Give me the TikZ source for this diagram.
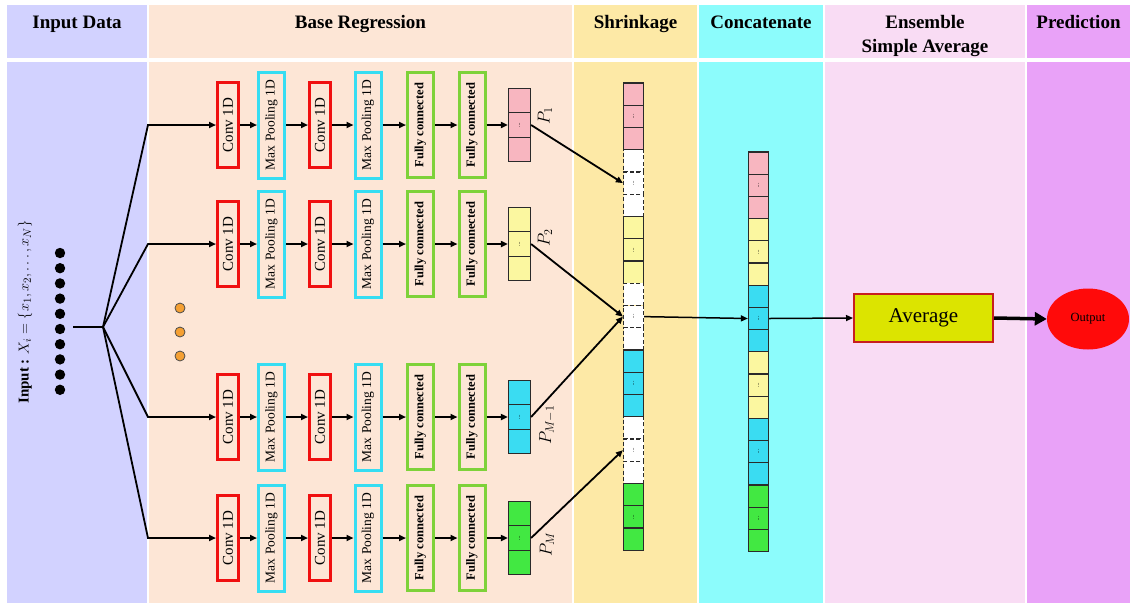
\documentclass[tikz,border=0pt]{standalone}
\usepackage{fontspec}
\setmainfont{Liberation Serif}
\usetikzlibrary{arrows.meta,shapes.geometric}

% column backgrounds
\definecolor{colInput}{HTML}{D2D2FF}
\definecolor{colBase}{HTML}{FDE6D6}
\definecolor{colShrink}{HTML}{FDE9A6}
\definecolor{colConcat}{HTML}{8CFCFC}
\definecolor{colEns}{HTML}{F9DCF4}
\definecolor{colPred}{HTML}{E9A2F8}
% layer boxes
\definecolor{convred}{HTML}{F01010}
\definecolor{poolcyan}{HTML}{36DDF2}
\definecolor{fcgreen}{HTML}{7ED23A}
% vector cells
\definecolor{cellpink}{HTML}{F8B6C0}
\definecolor{cellyellow}{HTML}{FBF7A0}
\definecolor{cellcyan}{HTML}{3ADCF2}
\definecolor{cellgreen}{HTML}{42E842}
\definecolor{cellborder}{HTML}{2A2A2A}
% averaging / output
\definecolor{avgfill}{HTML}{DCE400}
\definecolor{avgedge}{HTML}{C81E1E}
\definecolor{outred}{HTML}{FF0A0A}
\definecolor{dotorange}{HTML}{F5A033}

\newcommand{\celldots}{\rotatebox{90}{\fontsize{6}{6}\selectfont...}}

\begin{document}
\begin{tikzpicture}[x=1pt,y=-1pt,
  wire/.style={line width=1.8pt, black},
  arr/.style={wire, -{Triangle[length=7pt,width=6pt]}},
  layer/.style={draw, line width=3pt, inner sep=0pt},
  convbox/.style={layer, draw=convred, minimum width=21pt, minimum height=85pt,
    font=\fontsize{15}{15}\selectfont},
  poolbox/.style={layer, draw=poolcyan, minimum width=26pt, minimum height=106pt,
    font=\fontsize{13.5}{13.5}\selectfont},
  fcbox/.style={layer, draw=fcgreen, minimum width=26pt, minimum height=105pt,
    font=\bfseries\fontsize{12.5}{12.5}\selectfont},
  vcell/.style={draw=cellborder, line width=1.2pt, minimum width=22pt,
    minimum height=24.5pt, inner sep=0pt},
  ccell/.style={draw=cellborder, line width=1.2pt, minimum width=20pt,
    minimum height=22.2pt, inner sep=0pt},
  pinkcell/.style={ccell, fill=cellpink},
  yellowcell/.style={ccell, fill=cellyellow},
  cyancell/.style={ccell, fill=cellcyan},
  greencell/.style={ccell, fill=cellgreen},
  dashcell/.style={ccell, fill=white, dash pattern=on 4pt off 2.5pt},
  head/.style={font=\bfseries\fontsize{19}{24}\selectfont, anchor=base,
    inner sep=0pt, align=center},
  plabel/.style={rotate=90, font=\fontsize{17}{17}\selectfont, inner sep=0pt},
  odot/.style={circle, draw=black!70, line width=0.8pt, fill=dotorange,
    minimum size=10pt, inner sep=0pt},
]
\useasboundingbox (0,0) rectangle (1132,606);

% ---- column bands: header strip and body ----
\foreach \xa/\xb/\cl in {7/147/colInput, 149/572/colBase, 574/697/colShrink,
                         699/823/colConcat, 825/1025/colEns, 1027/1130/colPred} {
  \fill[\cl] (\xa,5) rectangle (\xb,58);
  \fill[\cl] (\xa,62) rectangle (\xb,603);
}

% ---- column titles ----
\node[head] (hInput)  at (77,28)    {Input Data};
\node[head] (hBase)   at (360.5,28) {Base Regression};
\node[head] (hShrink) at (635.5,28) {Shrinkage};
\node[head] (hConcat) at (761,28)   {Concatenate};
\node[head] (hEns)    at (925,52)   {Ensemble\\Simple Average};
\node[head] (hPred)   at (1078.5,28){Prediction};

% ---- input series ----
\node[rotate=90, font=\fontsize{15}{15}\selectfont, inner sep=0pt] (inlbl) at (25,312)
  {\textbf{Input :} $X_i = \{x_1, x_2, \ldots, x_N\}$};
\foreach \i in {0,...,9}
  \fill (60,253+\i*15.2) circle (5.2pt);
\coordinate (din)  at (73,327);
\coordinate (junc) at (103,327);
\draw[wire] (din) -- (junc);

% ---- base regressors (one CNN per row) ----
\foreach \r/\y/\cc in {1/125/cellpink, 2/244/cellyellow, 3/417/cellcyan, 4/538/cellgreen} {
  \node[convbox] (ca\r) at (228,\y)   {\rotatebox{90}{Conv 1D}};
  \node[poolbox] (pa\r) at (271.5,\y) {\rotatebox{90}{Max Pooling 1D}};
  \node[convbox] (cb\r) at (320,\y)   {\rotatebox{90}{Conv 1D}};
  \node[poolbox] (pb\r) at (368,\y)   {\rotatebox{90}{Max Pooling 1D}};
  \node[fcbox]   (fa\r) at (420.5,\y) {\rotatebox{90}{Fully connected}};
  \node[fcbox]   (fb\r) at (472,\y)   {\rotatebox{90}{Fully connected}};
  \node[vcell, fill=\cc] (v\r-t) at (519.5,\y-24.5) {};
  \node[vcell, fill=\cc] (v\r-m) at (519.5,\y) {\celldots};
  \node[vcell, fill=\cc] (v\r-b) at (519.5,\y+24.5) {};
  \coordinate (br\r) at (148,\y);
  \draw[arr] (junc) -- (br\r) -- (ca\r);
  \draw[arr] (ca\r) -- (pa\r);
  \draw[arr] (pa\r) -- (cb\r);
  \draw[arr] (cb\r) -- (pb\r);
  \draw[arr] (pb\r) -- (fa\r);
  \draw[arr] (fa\r) -- (fb\r);
  \draw[arr] (fb\r) -- (v\r-m);
}

% omitted branches
\node[odot] (om1) at (180,308) {};
\node[odot] (om2) at (180,332) {};
\node[odot] (om3) at (180,356) {};

% prediction labels
\node[plabel] (lp1) at (545,116) {$P_1$};
\node[plabel] (lp2) at (545,238) {$P_2$};
\node[plabel] (lp3) at (547,425) {$P_{M-1}$};
\node[plabel] (lp4) at (547,544) {$P_M$};

% ---- shrinkage vector ----
\foreach \g/\sty in {0/pinkcell, 1/dashcell, 2/yellowcell, 3/dashcell,
                     4/cyancell, 5/dashcell, 6/greencell} {
  \foreach \j in {1,2,3} {
    \pgfmathtruncatemacro\n{3*\g+\j}
    \node[\sty] (s\n) at (633.5,{83+(3*\g+\j-0.5)*22.25}) {\ifnum\j=2 \celldots\fi};
  }
}

% ---- concatenated vector ----
\foreach \g/\sty in {0/pinkcell, 1/yellowcell, 2/cyancell, 3/yellowcell,
                     4/cyancell, 5/greencell} {
  \foreach \j in {1,2,3} {
    \pgfmathtruncatemacro\n{3*\g+\j}
    \node[\sty] (k\n) at (758.5,{152+(3*\g+\j-0.5)*22.2}) {\ifnum\j=2 \celldots\fi};
  }
}

% ---- averaging and output ----
\node[draw=avgedge, line width=2pt, fill=avgfill, minimum width=139pt,
      minimum height=48pt, font=\fontsize{21}{21}\selectfont] (avg) at (923.5,318) {Average};
\node[ellipse, fill=outred, minimum width=82pt, minimum height=61pt, inner sep=0pt,
      font=\fontsize{12.5}{12.5}\selectfont] (out) at (1088,319) {Output};

% ---- connectors between stages ----
\draw[arr] (v1-m.east) -- (s5.west);
\draw[arr] (v2-m.east) -- (s11.west);
\draw[arr] (v3-m.east) -- (s11.west);
\draw[arr] (v4-m.east) -- (s17.west);
\draw[arr, line width=1.5pt] (s11.east) -- (k8.west);
\draw[arr, line width=1.5pt] (k8.east) -- (avg.west);
\draw[line width=3.5pt, -{Triangle[length=12pt,width=13pt]}] (avg.east) -- (out.west);
\end{tikzpicture}
\end{document}
